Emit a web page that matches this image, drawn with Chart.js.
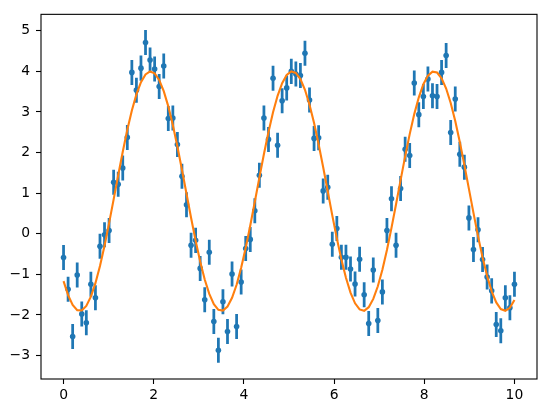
<!DOCTYPE html>
<html>
<head>
<meta charset="utf-8">
<script src="https://cdn.jsdelivr.net/npm/chart.js@4"></script>
<style>
html,body{margin:0;padding:0;background:#fff;}
#wrap{width:546px;height:413px;}
</style>
</head>
<body>
<div id="wrap"><canvas id="c" width="546" height="413"></canvas></div>
<script>
const xValues = [0, 0.101, 0.202, 0.303, 0.404, 0.505, 0.606, 0.707, 0.808, 0.909,
  1.010, 1.111, 1.212, 1.313, 1.414, 1.515, 1.616, 1.717, 1.818, 1.919,
  2.020, 2.121, 2.222, 2.323, 2.424, 2.525, 2.626, 2.727, 2.828, 2.929,
  3.030, 3.131, 3.232, 3.333, 3.434, 3.535, 3.636, 3.737, 3.838, 3.939,
  4.040, 4.141, 4.242, 4.343, 4.444, 4.545, 4.646, 4.747, 4.848, 4.949,
  5.051, 5.152, 5.253, 5.354, 5.455, 5.556, 5.657, 5.758, 5.859, 5.960,
  6.061, 6.162, 6.263, 6.364, 6.465, 6.566, 6.667, 6.768, 6.869, 6.970,
  7.071, 7.172, 7.273, 7.374, 7.475, 7.576, 7.677, 7.778, 7.879, 7.980,
  8.081, 8.182, 8.283, 8.384, 8.485, 8.586, 8.687, 8.788, 8.889, 8.990,
  9.091, 9.192, 9.293, 9.394, 9.495, 9.596, 9.697, 9.798, 9.899, 10.0];

const yObserved = [-0.585, -1.366, -2.53, -1.017, -1.976, -2.195, -1.245, -1.578, -0.31, -0.025,
  0.08, 1.27, 1.22, 1.617, 2.373, 3.975, 3.537, 4.08, 4.71, 4.28,
  4.056, 3.625, 4.13, 2.837, 2.853, 2.2, 1.414, 0.715, -0.285, -0.163,
  -0.854, -1.627, -0.457, -2.163, -2.871, -1.676, -2.407, -0.993, -2.285, -1.188,
  -0.366, -0.139, 0.568, 1.439, 2.853, 2.324, 3.829, 2.178, 3.276, 3.593,
  4.0, 3.934, 3.9, 4.446, 3.293, 2.349, 2.366, 1.056, 1.146, -0.261,
  0.129, -0.578, -0.578, -0.871, -1.237, -0.627, -1.505, -2.212, -0.895, -2.139,
  -1.432, 0.08, 0.861, -0.285, 1.112, 2.08, 1.927, 3.715, 2.934, 3.381,
  3.812, 3.398, 3.381, 3.975, 4.39, 2.495, 3.317, 1.959, 1.641, 0.39,
  -0.39, 0.098, -0.634, -1.066, -1.407, -2.237, -2.39, -1.578, -1.822, -1.244];

const yErr = 0.3;

const yFit = [-1.168, -1.512, -1.754, -1.881, -1.889, -1.777, -1.550, -1.218, -0.793, -0.293,
  0.261, 0.847, 1.442, 2.021, 2.560, 3.038, 3.434, 3.735, 3.926, 3.999,
  3.953, 3.789, 3.514, 3.138, 2.677, 2.150, 1.578, 0.985, 0.394, -0.169,
  -0.683, -1.127, -1.482, -1.734, -1.873, -1.894, -1.794, -1.579, -1.256, -0.840,
  -0.347, 0.203, 0.787, 1.382, 1.963, 2.508, 2.993, 3.398, 3.709, 3.912,
  3.997, 3.963, 3.811, 3.546, 3.180, 2.727, 2.206, 1.638, 1.046, 0.454,
  -0.114, -0.634, -1.086, -1.450, -1.714, -1.865, -1.897, -1.809, -1.605, -1.294,
  -0.886, -0.400, 0.145, 0.727, 1.322, 1.906, 2.454, 2.947, 3.361, 3.683,
  3.896, 3.994, 3.972, 3.831, 3.578, 3.221, 2.777, 2.262, 1.697, 1.106,
  0.513, -0.058, -0.584, -1.043, -1.418, -1.692, -1.855, -1.899, -1.824, -1.631];

const xTicks = [0, 2, 4, 6, 8, 10];
const yTicks = [-3, -2, -1, 0, 1, 2, 3, 4, 5];

const BLUE = '#1f77b4';
const ORANGE = '#ff7f0e';
const FONT = {family: "'DejaVu Sans', sans-serif", size: 13.9};

const fmt = v => (v < 0 ? '\u2212' + Math.abs(v) : String(v));

const framePlugin = {
  id: 'frame',
  afterDraw(chart) {
    const a = chart.chartArea, ctx = chart.ctx;
    ctx.save();
    ctx.strokeStyle = '#000';
    ctx.lineWidth = 1.1;
    ctx.strokeRect(a.left, a.top, a.right - a.left, a.bottom - a.top);
    ctx.restore();
  }
};

new Chart(document.getElementById('c'), {
  type: 'scatter',
  data: {
    datasets: [
      {
        type: 'line',
        label: 'fit',
        data: xValues.map((x, i) => ({x: x, y: yFit[i]})),
        borderColor: ORANGE,
        borderWidth: 2.1,
        pointRadius: 0,
        fill: false,
        tension: 0,
        order: 0
      },
      {
        type: 'scatter',
        label: 'data',
        data: xValues.map((x, i) => ({x: x, y: yObserved[i]})),
        backgroundColor: BLUE,
        borderColor: BLUE,
        borderWidth: 0,
        pointRadius: 2.8,
        pointHoverRadius: 2.8,
        order: 1
      },
      {
        type: 'bar',
        label: 'err',
        data: xValues.map((x, i) => ({x: x, y: [yObserved[i] - yErr, yObserved[i] + yErr]})),
        backgroundColor: BLUE,
        borderWidth: 0,
        barThickness: 2.1,
        grouped: false,
        order: 2
      }
    ]
  },
  options: {
    responsive: false,
    animation: false,
    devicePixelRatio: 1,
    layout: {padding: {left: 0, right: 9, top: 11, bottom: 0}},
    plugins: {legend: {display: false}, tooltip: {enabled: false}},
    scales: {
      x: {
        type: 'linear',
        offset: false,
        min: -0.5,
        max: 10.5,
        afterFit(s) { s.height = 34; },
        afterBuildTicks(s) { s.ticks = xTicks.map(v => ({value: v})); },
        grid: {display: true, drawOnChartArea: false, drawTicks: true, tickLength: 5, tickColor: '#000', tickWidth: 1.1, offset: false},
        border: {display: false},
        ticks: {color: '#000', font: FONT, padding: 3, maxRotation: 0, callback: v => fmt(v)}
      },
      y: {
        type: 'linear',
        min: -3.578,
        max: 5.405,
        afterFit(s) { s.width = 41; },
        afterBuildTicks(s) { s.ticks = yTicks.map(v => ({value: v})); },
        grid: {display: true, drawOnChartArea: false, drawTicks: true, tickLength: 5, tickColor: '#000', tickWidth: 1.1},
        border: {display: false},
        ticks: {color: '#000', font: FONT, padding: 6, callback: v => fmt(v)}
      }
    }
  },
  plugins: [framePlugin]
});
</script>
</body>
</html>
